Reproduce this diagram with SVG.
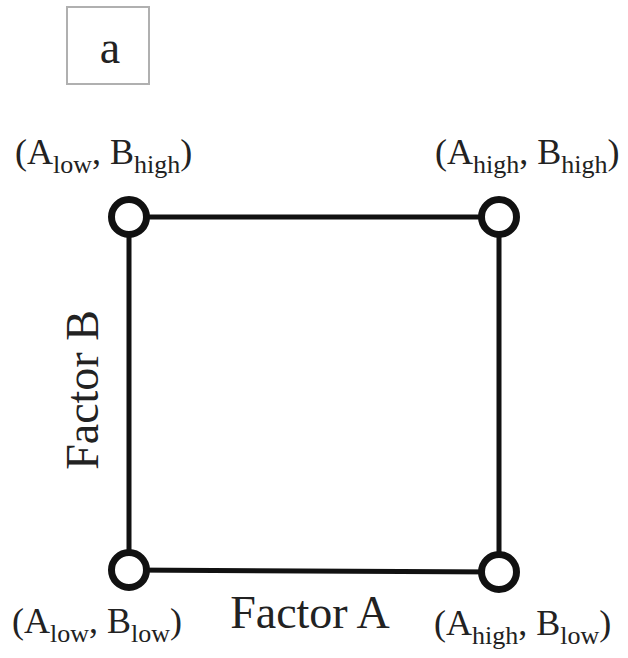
<svg xmlns="http://www.w3.org/2000/svg" width="628" height="658" viewBox="0 0 628 658">
<style>
.node{fill:#fff;stroke:#111;stroke-width:7}
.edge{stroke:#111;stroke-width:5;fill:none}
</style>
<rect width="628" height="658" fill="#fff"/>
<g id="tag">
<rect x="67" y="7" width="82" height="77" fill="#fff" stroke="#b0b0b0" stroke-width="2"/>
<text x="110" y="63" text-anchor="middle" style="font-family:'Liberation Serif',serif;font-size:46px;fill:#222">a</text>
</g>
<g id="connectors">
<line class="edge" x1="129" y1="217" x2="499" y2="217"/>
<line class="edge" x1="129" y1="570" x2="499" y2="572"/>
<line class="edge" x1="129" y1="217" x2="129" y2="570"/>
<line class="edge" x1="499" y1="217" x2="499" y2="572"/>
</g>
<g id="n-low-high">
<circle class="node" cx="129" cy="217" r="17.5"/>
<text style="font-family:'Liberation Serif',serif;font-size:36px;fill:#222" x="15" y="164">(A<tspan style="font-size:26px" dy="9">low</tspan><tspan dy="-9">, B</tspan><tspan style="font-size:26px" dy="9">high</tspan><tspan dy="-9">)</tspan></text>
</g>
<g id="n-high-high">
<circle class="node" cx="499" cy="217" r="17.5"/>
<text style="font-family:'Liberation Serif',serif;font-size:36px;fill:#222" x="435" y="164">(A<tspan style="font-size:26px" dy="9">high</tspan><tspan dy="-9">, B</tspan><tspan style="font-size:26px" dy="9">high</tspan><tspan dy="-9">)</tspan></text>
</g>
<g id="n-low-low">
<circle class="node" cx="129" cy="570" r="17.5"/>
<text style="font-family:'Liberation Serif',serif;font-size:36px;fill:#222" x="12" y="633">(A<tspan style="font-size:26px" dy="9">low</tspan><tspan dy="-9">, B</tspan><tspan style="font-size:26px" dy="9">low</tspan><tspan dy="-9">)</tspan></text>
</g>
<g id="n-high-low">
<circle class="node" cx="499" cy="572" r="17.5"/>
<text style="font-family:'Liberation Serif',serif;font-size:36px;fill:#222" x="434" y="635">(A<tspan style="font-size:26px" dy="9">high</tspan><tspan dy="-9">, B</tspan><tspan style="font-size:26px" dy="9">low</tspan><tspan dy="-9">)</tspan></text>
</g>
<text style="font-family:'Liberation Serif',serif;font-size:46px;fill:#222" x="310" y="628" text-anchor="middle">Factor A</text>
<text style="font-family:'Liberation Serif',serif;font-size:46px;fill:#222" transform="translate(98 390) rotate(-90)" text-anchor="middle">Factor B</text>
</svg>
